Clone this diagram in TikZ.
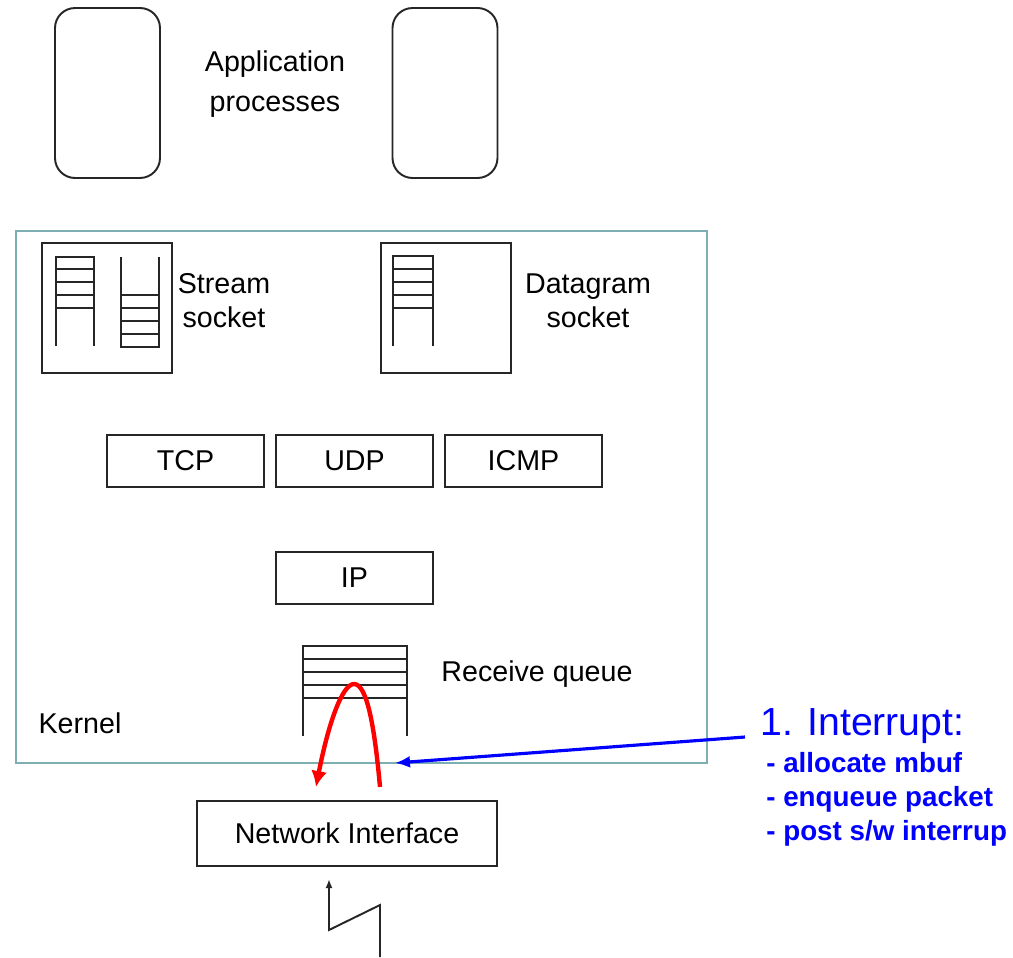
\documentclass[tikz,border=0pt]{standalone}
\usepackage{fontspec}
\setmainfont{Liberation Sans}
\usetikzlibrary{arrows.meta}
\definecolor{kernelline}{RGB}{125,175,178}
\begin{document}
\begin{tikzpicture}[x=0.02cm,y=-0.02cm,
  lbl/.style={font=\fontsize{16.3}{19.3}\selectfont, align=center, inner sep=0pt},
  proto/.style={draw=black!85, line width=1.3pt, minimum width=3.14cm, minimum height=1.04cm,
    inner sep=0pt, font=\fontsize{16.3}{19.3}\selectfont},
  app/.style={draw=black!85, line width=1.1pt, rounded corners=0.4cm,
    minimum width=2.1cm, minimum height=3.4cm, inner sep=0pt},
  sockbox/.style={draw=black!85, line width=1.3pt, minimum width=2.6cm, minimum height=2.6cm, inner sep=0pt},
  ladder/.style={draw=black!85, line width=1.2pt},
  note/.style={text=blue, inner sep=0pt, anchor=base west},
]
\useasboundingbox (0,0) rectangle (1013,957);

% application processes
\node[app] (app1) at (107.5,93) {};
\node[app] (app2) at (445,93) {};
\node[lbl, font=\fontsize{16.3}{22.7}\selectfont] (applbl) at (275,84) {Application\\processes};

% kernel boundary
\node[draw=kernelline, line width=1.1pt, minimum width=13.82cm, minimum height=10.64cm, inner sep=0pt]
  (kernel) at (361.5,497) {};
\node[lbl] (kernlbl) at (80,723) {Kernel};

% sockets
\node[sockbox] (stream) at (107,308) {};
\node[sockbox] (dgram) at (446,308) {};
\node[lbl] (streamlbl) at (224,301) {Stream\\socket};
\node[lbl] (dgramlbl) at (588,301) {Datagram\\socket};

% socket buffers
\draw[ladder] (56,346) -- (56,257) -- (94,257) -- (94,346);
\foreach \y in {269,282,295,308} \draw[ladder] (56,\y) -- (94,\y);
\draw[ladder] (121,257) -- (121,347) -- (159,347) -- (159,257);
\foreach \y in {295,308,321,334} \draw[ladder] (121,\y) -- (159,\y);
\draw[ladder] (393,346) -- (393,256) -- (433,256) -- (433,346);
\foreach \y in {269,282,295,308} \draw[ladder] (393,\y) -- (433,\y);

% protocol layers
\node[proto] (tcp) at (185.5,461) {TCP};
\node[proto] (udp) at (354.5,461) {UDP};
\node[proto] (icmp) at (523.5,461) {ICMP};
\node[proto] (ip) at (354.5,578) {IP};

% receive queue
\draw[ladder] (303,736) -- (303,646) -- (407,646) -- (407,736);
\foreach \y in {659,672,685,698} \draw[ladder] (303,\y) -- (407,\y);
\node[lbl] (rqlbl) at (537,674) {Receive queue};

% network interface
\node[proto, minimum width=6cm, minimum height=1.3cm] (nic) at (347,833.5) {Network Interface};

% incoming line
\coordinate (wirein) at (380,957);
\coordinate (wiretip) at (329,879);
\draw[black!85, line width=1.1pt, -{Latex[length=1.8mm,width=1.4mm]}]
  (wirein) -- (380,905) -- (329,930) -- (wiretip);

% interrupt note
\node[note, font=\fontsize{22.3}{26}\selectfont] (intr) at (760,735) {1. Interrupt:};
\node[note, font=\bfseries\fontsize{15.8}{19}\selectfont] (n1) at (766,772) {- allocate mbuf};
\node[note, font=\bfseries\fontsize{15.8}{19}\selectfont] (n2) at (766,806) {- enqueue packet};
\node[note, font=\bfseries\fontsize{15.8}{19}\selectfont] (n3) at (766,840) {- post s/w interrup};

\coordinate (intrtail) at (745,737);
\coordinate (intrtip) at (395,763);
\draw[blue, line width=1.8pt, -{Latex[length=3mm,width=2.4mm]}] (intrtail) -- (intrtip);

% packet path up into the queue and back
\coordinate (upstart) at (380,787);
\coordinate (downend) at (316,787);
\draw[red, line width=2.5pt, -{Latex[length=3.2mm,width=3.2mm]}]
  (upstart) .. controls (374,720) and (366,684) .. (354,684)
  .. controls (342,684) and (328,725) .. (downend);
\end{tikzpicture}
\end{document}
